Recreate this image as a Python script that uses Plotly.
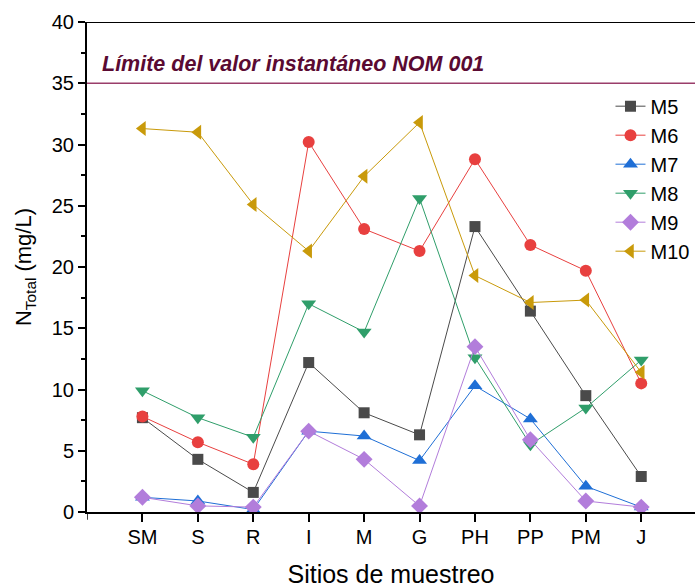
import plotly.graph_objects as go

sites = ["SM", "S", "R", "I", "M", "G", "PH", "PP", "PM", "J"]
M5 = [7.7, 4.3, 1.6, 12.2, 8.1, 6.3, 23.3, 16.4, 9.5, 2.9]
M6 = [7.8, 5.7, 3.9, 30.2, 23.1, 21.3, 28.8, 21.8, 19.7, 10.5]
M7 = [1.2, 0.9, 0.2, 6.6, 6.2, 4.2, 10.3, 7.6, 2.1, 0.4]
M8 = [9.9, 7.7, 6.1, 17.0, 14.7, 25.6, 12.6, 5.5, 8.5, 12.4]
M9 = [1.2, 0.5, 0.4, 6.6, 4.3, 0.5, 13.5, 5.9, 0.9, 0.4]
M10 = [31.3, 31.0, 25.1, 21.3, 27.4, 31.8, 19.3, 17.1, 17.3, 11.4]
limit_value = 35
limit_label = "Límite del valor instantáneo NOM 001"

series = [
    ("M5", M5, "#4a4a4a", "square", 11),
    ("M6", M6, "#e8403f", "circle", 12),
    ("M7", M7, "#1f6fd6", "triangle-up", 13),
    ("M8", M8, "#2f9e6a", "triangle-down", 13),
    ("M9", M9, "#b27ddb", "diamond", 13),
    ("M10", M10, "#c99a0a", "triangle-left", 13),
]

font_family = "Arial, Liberation Sans, sans-serif"

fig = go.Figure()
for name, vals, color, sym, size in series:
    fig.add_trace(go.Scatter(
        x=sites, y=vals, name=name, mode="lines+markers",
        line=dict(color=color, width=1),
        marker=dict(symbol=sym, size=size, color=color, line=dict(width=0)),
    ))

fig.add_shape(type="line", xref="paper", yref="y", x0=0, x1=1,
              y0=limit_value, y1=limit_value,
              line=dict(color="#9a3d6a", width=1.5))
fig.add_shape(type="line", xref="paper", yref="y", x0=0, x1=1,
              y0=40, y1=40, line=dict(color="black", width=2))
fig.add_shape(type="line", xref="x", yref="paper", x0=-1, x1=-1,
              y0=0, y1=-0.016, line=dict(color="black", width=1.5))

fig.add_annotation(text="<b><i>" + limit_label + "</i></b>",
                   xref="paper", yref="y", x=0.022, y=limit_value,
                   xanchor="left", yanchor="bottom", yshift=5,
                   showarrow=False,
                   font=dict(family=font_family, size=21.5, color="#5a0a32"))

fig.update_layout(
    width=695, height=588,
    margin=dict(l=87, r=0, t=22, b=76),
    paper_bgcolor="white", plot_bgcolor="white",
    font=dict(family=font_family, color="black"),
    showlegend=True,
    legend=dict(x=0.861, y=0.868, xanchor="left", yanchor="top",
                font=dict(size=20, family=font_family),
                bgcolor="rgba(0,0,0,0)", itemwidth=30, tracegroupgap=0),
    xaxis=dict(
        type="category", range=[-1, 9.97], automargin=False,
        showline=True, linecolor="black", linewidth=2,
        ticks="outside", ticklen=8, tickwidth=1.5, tickcolor="black",
        tickfont=dict(size=20), ticklabelstandoff=-2,
        showgrid=False, zeroline=False,
        title=dict(text="Sitios de muestreo", font=dict(size=25), standoff=18),
    ),
    yaxis=dict(
        range=[0, 40], dtick=5, tick0=0, automargin=False,
        showline=True, linecolor="black", linewidth=2,
        ticks="outside", ticklen=7, tickwidth=1.5, tickcolor="black",
        minor=dict(dtick=2.5, ticks="outside", ticklen=4, tickwidth=1.5, tickcolor="black"),
        tickfont=dict(size=20), showgrid=False, zeroline=False,
        title=dict(text="N<sub>Total</sub> (mg/L)", font=dict(size=22), standoff=14),
    ),
)

fig.write_html("out.html", config={"displayModeBar": False},
               post_script="document.body.style.margin='0';document.body.style.padding='0';")
